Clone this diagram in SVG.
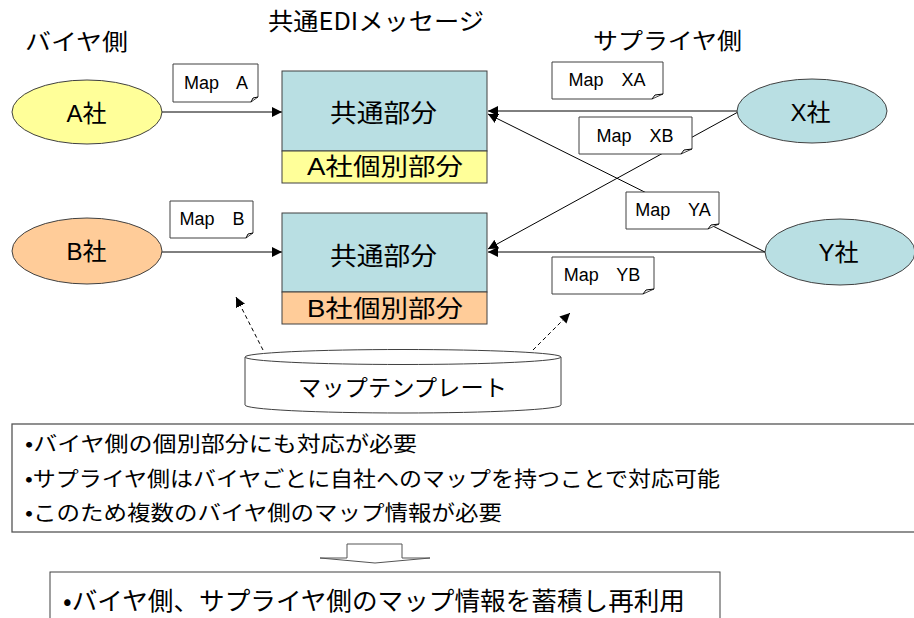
<svg xmlns="http://www.w3.org/2000/svg" width="914" height="618" viewBox="0 0 914 618">
<defs>
<marker id="ah" viewBox="0 0 10 10" refX="10" refY="5" markerWidth="10" markerHeight="10" markerUnits="userSpaceOnUse" orient="auto">
<path d="M0,0 L10,5 L0,10 Z" fill="#000"/>
</marker>
<style>
.t{font-family:"Liberation Sans","Noto Sans CJK JP",sans-serif;fill:#000}
.j{font-family:"Noto Sans CJK JP","Liberation Sans",sans-serif;fill:#000}
.m{font-family:"Liberation Sans",Arial,sans-serif;font-size:18px;word-spacing:4px;fill:#000}
.box{stroke:#404040;stroke-width:1}
.note{fill:#fff;stroke:#404040;stroke-width:1}
.ln{stroke:#000;stroke-width:1;fill:none}
.dash{stroke:#000;stroke-width:1;fill:none;stroke-dasharray:4,3}
</style>
</defs>
<rect width="914" height="618" fill="#fff"/>

<text class="j" x="268" y="30" font-size="24" textLength="216" lengthAdjust="spacingAndGlyphs">共通EDIメッセージ</text>
<text class="j" x="25" y="50" font-size="23" textLength="103" lengthAdjust="spacingAndGlyphs">バイヤ側</text>
<text class="j" x="593" y="49" font-size="23" textLength="149" lengthAdjust="spacingAndGlyphs">サプライヤ側</text>

<g id="connectors">
<line class="ln" x1="162" y1="112" x2="282" y2="112" marker-end="url(#ah)"/>
<line class="ln" x1="162" y1="252" x2="282" y2="252" marker-end="url(#ah)"/>
<line class="ln" x1="738" y1="111" x2="488" y2="111" marker-end="url(#ah)"/>
<line class="ln" x1="765" y1="252" x2="488" y2="252" marker-end="url(#ah)"/>
<line class="ln" x1="765" y1="252" x2="488" y2="114" marker-end="url(#ah)"/>
<line class="ln" x1="738" y1="112" x2="488" y2="249" marker-end="url(#ah)"/>
<line class="dash" x1="263" y1="350" x2="236" y2="297" marker-end="url(#ah)"/>
<line class="dash" x1="533" y1="350" x2="570" y2="313" marker-end="url(#ah)"/>
</g>

<g id="nodeA">
<ellipse cx="87" cy="112" rx="75" ry="32" fill="#FFFF99" class="box"/>
<text class="t" x="86.5" y="122" font-size="24" text-anchor="middle">A社</text>
</g>
<g id="nodeB">
<ellipse cx="87" cy="251" rx="75" ry="33" fill="#FFCC99" class="box"/>
<text class="t" x="86.5" y="260" font-size="24" text-anchor="middle">B社</text>
</g>
<g id="nodeX">
<ellipse cx="812" cy="111" rx="75" ry="32" fill="#B9DFE3" class="box"/>
<text class="t" x="810.5" y="121" font-size="24" text-anchor="middle">X社</text>
</g>
<g id="nodeY">
<ellipse cx="840" cy="252" rx="75" ry="33" fill="#B9DFE3" class="box"/>
<text class="t" x="838.5" y="261" font-size="24" text-anchor="middle">Y社</text>
</g>

<g id="commonA">
<rect x="282" y="71" width="205" height="80" fill="#B9DFE3" class="box"/>
<text class="j" x="330" y="122" font-size="25" textLength="107" lengthAdjust="spacingAndGlyphs">共通部分</text>
</g>
<g id="indivA">
<rect x="282" y="151" width="205" height="32" fill="#FFFF99" class="box"/>
<text class="t" x="307" y="175" font-size="24" textLength="156" lengthAdjust="spacingAndGlyphs">A社個別部分</text>
</g>
<g id="commonB">
<rect x="282" y="213" width="205" height="79" fill="#B9DFE3" class="box"/>
<text class="j" x="330" y="265" font-size="25" textLength="107" lengthAdjust="spacingAndGlyphs">共通部分</text>
</g>
<g id="indivB">
<rect x="282" y="292" width="205" height="32" fill="#FFCC99" class="box"/>
<text class="t" x="307" y="317" font-size="24" textLength="156" lengthAdjust="spacingAndGlyphs">B社個別部分</text>
</g>

<g id="mapA">
<path class="note" d="M173,64 H258 V97 L251,102 H173 Z"/>
<path class="ln" stroke="#404040" d="M251,102 L253,98 L258,97"/>
<text class="m" x="216" y="89" text-anchor="middle" xml:space="preserve">Map  A</text>
</g>
<g id="mapB">
<path class="note" d="M170,201 H253 V233 L246,238 H170 Z"/>
<path class="ln" stroke="#404040" d="M246,238 L248,234 L253,233"/>
<text class="m" x="212" y="225" text-anchor="middle" xml:space="preserve">Map  B</text>
</g>
<g id="mapXA">
<path class="note" d="M552,62 H663 V94 L652,99 H552 Z"/>
<path class="ln" stroke="#404040" d="M652,99 L655,95 L663,94"/>
<text class="m" x="607" y="86" text-anchor="middle" xml:space="preserve">Map  XA</text>
</g>
<g id="mapXB">
<path class="note" d="M579,117 H692 V149 L681,154 H579 Z"/>
<path class="ln" stroke="#404040" d="M681,154 L684,150 L692,149"/>
<text class="m" x="635" y="142" text-anchor="middle" xml:space="preserve">Map  XB</text>
</g>
<g id="mapYA">
<path class="note" d="M626,192 H719 V224 L708,229 H626 Z"/>
<path class="ln" stroke="#404040" d="M708,229 L711,225 L719,224"/>
<text class="m" x="673" y="216" text-anchor="middle" xml:space="preserve">Map  YA</text>
</g>
<g id="mapYB">
<path class="note" d="M552,257 H654 V289 L643,294 H552 Z"/>
<path class="ln" stroke="#404040" d="M643,294 L646,290 L654,289"/>
<text class="m" x="602" y="281" text-anchor="middle" xml:space="preserve">Map  YB</text>
</g>

<g id="template">
<path d="M245,357 V405 A158,8 0 0 0 561,405 V357" fill="#fff" stroke="#404040" stroke-width="1"/>
<ellipse cx="403" cy="357" rx="158" ry="7.5" fill="#fff" stroke="#404040" stroke-width="1"/>
<text class="j" x="298" y="396" font-size="23" textLength="209" lengthAdjust="spacingAndGlyphs">マップテンプレート</text>
</g>

<g id="notes">
<rect x="12" y="424" width="920" height="108" fill="#fff" stroke="#555" stroke-width="1.3"/>
<text class="j" x="25" y="451" font-size="21" textLength="392" lengthAdjust="spacingAndGlyphs">•バイヤ側の個別部分にも対応が必要</text>
<text class="j" x="25" y="486" font-size="21" textLength="695" lengthAdjust="spacingAndGlyphs">•サプライヤ側はバイヤごとに自社へのマップを持つことで対応可能</text>
<text class="j" x="25" y="520" font-size="21" textLength="477" lengthAdjust="spacingAndGlyphs">•このため複数のバイヤ側のマップ情報が必要</text>
</g>

<g id="downArrow">
<polygon points="320,558 347,558 347,544 402,544 402,558 430,558 375,563" fill="#fff" stroke="#555" stroke-width="1"/>
</g>

<g id="conclusion">
<rect x="50" y="572" width="670" height="60" fill="#fff" stroke="#404040" stroke-width="1"/>
<text class="j" x="63" y="610" font-size="25" textLength="622" lengthAdjust="spacingAndGlyphs">•バイヤ側、サプライヤ側のマップ情報を蓄積し再利用</text>
</g>
</svg>
